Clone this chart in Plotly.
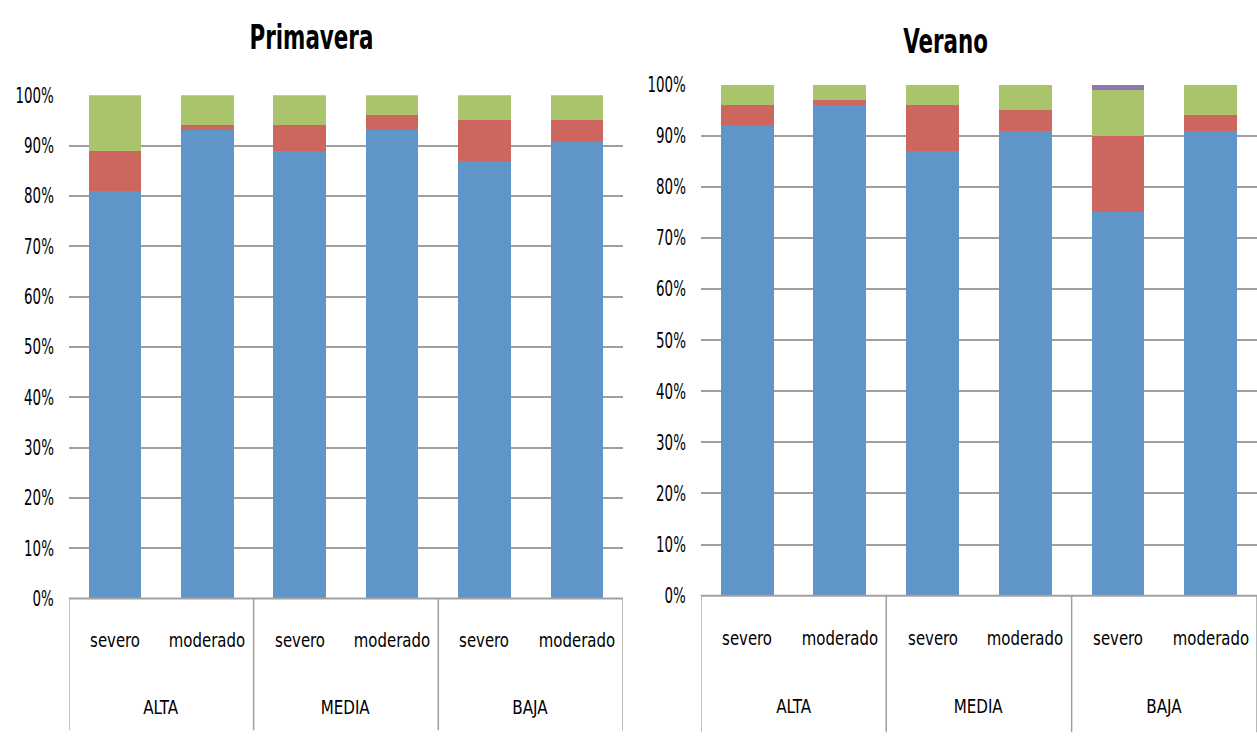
import plotly.graph_objects as go

# Category structure of the x axis
grupos = ["ALTA", "MEDIA", "BAJA"]
niveles = ["severo", "moderado"]
categorias = [(g, n) for g in grupos for n in niveles]

# Stacked shares (%) per category, bottom to top
prim_azul = [81, 93, 89, 93, 87, 91]
prim_rojo = [8, 1, 5, 3, 8, 4]
prim_verde = [11, 6, 6, 4, 5, 5]
prim_morado = [0, 0, 0, 0, 0, 0]

ver_azul = [92, 96, 87, 91, 75, 91]
ver_rojo = [4, 1, 9, 4, 15, 3]
ver_verde = [4, 3, 4, 5, 9, 6]
ver_morado = [0, 0, 0, 0, 1, 0]

titulos = ["Primavera", "Verano"]
y_ticks = list(range(0, 101, 10))
y_labels = [f"{v}%" for v in y_ticks]

colores = {"azul": "#6095C9", "rojo": "#CD665F", "verde": "#A9C46B", "morado": "#8E78B2"}
FONT = "DejaVu Sans Condensed, DejaVu Sans, sans-serif"
GRID = "#A0A0A0"

pos = list(range(len(categorias)))

fig = go.Figure()

paneles = [
    ("x", "y", {"azul": prim_azul, "rojo": prim_rojo, "verde": prim_verde, "morado": prim_morado}),
    ("x2", "y2", {"azul": ver_azul, "rojo": ver_rojo, "verde": ver_verde, "morado": ver_morado}),
]
for xa, ya, series in paneles:
    for nombre, vals in series.items():
        fig.add_trace(go.Bar(
            x=pos, y=vals, name=nombre, xaxis=xa, yaxis=ya,
            marker=dict(color=colores[nombre], line=dict(width=0)),
            width=0.57, showlegend=False,
        ))

xcommon = dict(range=[-0.5, 5.5], showticklabels=False, showgrid=False,
               zeroline=False, showline=False, ticks="", fixedrange=True)
ycommon = dict(range=[0, 100], tickvals=y_ticks, ticktext=y_labels,
               showgrid=True, gridcolor=GRID, gridwidth=2, zeroline=False,
               showline=False, ticks="", ticklabelstandoff=14,
               tickfont=dict(family=FONT, size=21, color="#000"))

# Pixel layout helpers (figure is 1257 x 750, no margins)
W, H = 1257, 750
def px(x):
    return x / W
def py(y):
    return 1 - y / H

fig.update_layout(
    width=W, height=H, margin=dict(l=0, r=0, t=0, b=0),
    paper_bgcolor="white", plot_bgcolor="white", barmode="stack",
    xaxis=dict(domain=[px(67), px(622)], anchor="y", **xcommon),
    yaxis=dict(domain=[py(606), py(86)], anchor="x", **ycommon),
    xaxis2=dict(domain=[px(700), 1.0], anchor="y2", **xcommon),
    yaxis2=dict(domain=[py(603), py(75)], anchor="x2", **ycommon),
)

shapes = []
annotations = []
for xref, y_axis, y_sub, y_grp, y_bot, titulo, tx, ty in [
    ("x", 606, 649, 718, 742, titulos[0], 310, 26),
    ("x2", 603, 647, 717, 744, titulos[1], 945, 30),
]:
    # category axis baseline
    shapes.append(dict(type="line", xref=xref + " domain", yref="paper",
                       x0=0, x1=1, y0=py(y_axis), y1=py(y_axis),
                       line=dict(color=GRID, width=2)))
    # group dividers below the axis
    for b in [-0.5, 1.5, 3.5, 5.5]:
        shapes.append(dict(type="line", xref=xref, yref="paper",
                           x0=b, x1=b, y0=py(y_axis), y1=py(y_bot),
                           line=dict(color=GRID, width=1.5)))
    for i, (g, n) in enumerate(categorias):
        annotations.append(dict(x=i, y=py(y_sub), xref=xref, yref="paper",
                                text=n, showarrow=False,
                                xanchor="center", yanchor="middle",
                                font=dict(family=FONT, size=20, color="#000")))
    for j, g in enumerate(grupos):
        annotations.append(dict(x=2 * j + 0.5, y=py(y_grp), xref=xref, yref="paper",
                                text=g, showarrow=False,
                                xanchor="center", yanchor="middle",
                                font=dict(family=FONT, size=20, color="#000")))
    annotations.append(dict(x=px(tx), y=py(ty), xref="paper", yref="paper",
                            text=titulo, showarrow=False,
                            xanchor="center", yanchor="middle",
                            font=dict(family=FONT, size=34, color="#000", weight="bold")))

fig.update_layout(shapes=shapes, annotations=annotations)

# Condensed lettering: narrow each label with SVG textLength, keeping its anchor point
post_js = """
(function(){
  var gd = document.getElementById('{plot_id}');
  var titles = %s;
  function squeeze(){
    var nodes = gd.querySelectorAll('.annotation-text, .ytick text, .y2tick text');
    nodes.forEach(function(t){
      if (t.getAttribute('textLength')) { return; }
      var b0 = t.getBBox();
      var k = 0.83;
      if (t.closest('.ytick') || t.closest('.y2tick')) { k = 0.71; }
      else if (titles.indexOf(t.textContent) >= 0) { k = 0.70; }
      t.setAttribute('lengthAdjust', 'spacingAndGlyphs');
      t.setAttribute('textLength', (b0.width * k).toFixed(1));
      var b1 = t.getBBox();
      var anchor = t.getAttribute('text-anchor') || window.getComputedStyle(t).textAnchor;
      var dx;
      if (anchor === 'end') { dx = (b0.x + b0.width) - (b1.x + b1.width); }
      else if (anchor === 'start') { dx = b0.x - b1.x; }
      else { dx = (b0.x + b0.width / 2) - (b1.x + b1.width / 2); }
      if (Math.abs(dx) > 0.2) {
        var x = parseFloat(t.getAttribute('x') || '0');
        t.setAttribute('x', (x + dx).toFixed(2));
      }
      // shrink the annotation's background box to the narrowed text
      var bg = t.parentNode && t.parentNode.querySelector('rect.bg');
      if (bg) {
        var bw = parseFloat(bg.getAttribute('width') || '0');
        var bx = parseFloat(bg.getAttribute('x') || '0');
        var shrink = b0.width - b1.width;
        if (bw > shrink) {
          bg.setAttribute('width', (bw - shrink).toFixed(2));
          bg.setAttribute('x', (bx + shrink / 2).toFixed(2));
        }
      }
    });
  }
  squeeze();
  if (gd.on) { gd.on('plotly_afterplot', squeeze); }
})();
""" % str(titulos).replace("'", '"')

fig.write_html("out.html", post_script=post_js)
